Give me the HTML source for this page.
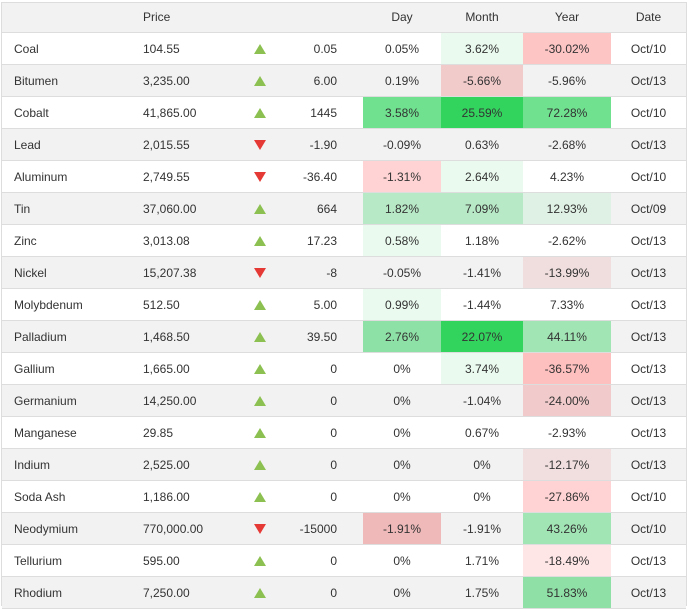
<!DOCTYPE html>
<html><head><style>
body{margin:0;width:689px;height:608px;background:#fff;font-family:"Liberation Sans",Arial,sans-serif;font-size:12px;color:#333;overflow:hidden;position:relative}
.t{position:absolute;left:1px;top:2px;width:686px;height:604px;border:1px solid #ddd;box-sizing:border-box}
.r{position:absolute;left:2px;width:684px;height:32px;border-bottom:1px solid #ddd;box-sizing:border-box}
.c{position:absolute;top:0;height:31px;line-height:32px}
.n{left:12px}.p{left:141px}
.tri{position:absolute;left:252px;width:0;height:0;border-left:6px solid transparent;border-right:6px solid transparent}
.up{top:11px;border-bottom:10px solid #8cc152}
.dn{top:11px;border-top:10px solid #e53935}
.ch{left:270px;width:65px;text-align:right}
.d{left:361px;width:78px;text-align:center}
.m{left:439px;width:82px;text-align:center}
.y{left:521px;width:88px;text-align:center}
.dt{left:609px;width:75px;text-align:center}
</style></head><body>
<div class="t"></div>
<div class="r" style="top:3px;height:30px;background:#f2f2f2"><div class="c p" style="line-height:29px">Price</div><div class="c d" style="line-height:29px">Day</div><div class="c m" style="line-height:29px">Month</div><div class="c y" style="line-height:29px">Year</div><div class="c dt" style="line-height:29px">Date</div></div>
<div id="rows"></div>
<script>
var D=[
["Coal","104.55",1,"0.05","0.05%","","3.62%","#eafaef","-30.02%","#fec5c5","Oct/10"],
["Bitumen","3,235.00",1,"6.00","0.19%","","-5.66%","#f1caca","-5.96%","","Oct/13"],
["Cobalt","41,865.00",1,"1445","3.58%","#6fe18f","25.59%","#33d45e","72.28%","#6fe18f","Oct/10"],
["Lead","2,015.55",0,"-1.90","-0.09%","","0.63%","","-2.68%","","Oct/13"],
["Aluminum","2,749.55",0,"-36.40","-1.31%","#ffd3d3","2.64%","#eafaef","4.23%","","Oct/10"],
["Tin","37,060.00",1,"664","1.82%","#b8e9c6","7.09%","#b8e9c6","12.93%","#dff0e4","Oct/09"],
["Zinc","3,013.08",1,"17.23","0.58%","#eafaef","1.18%","","-2.62%","","Oct/13"],
["Nickel","15,207.38",0,"-8","-0.05%","","-1.41%","","-13.99%","#f0dede","Oct/13"],
["Molybdenum","512.50",1,"5.00","0.99%","#eafaef","-1.44%","","7.33%","","Oct/13"],
["Palladium","1,468.50",1,"39.50","2.76%","#8ee1a6","22.07%","#33d45e","44.11%","#a2e5b5","Oct/13"],
["Gallium","1,665.00",1,"0","0%","","3.74%","#eafaef","-36.57%","#febfbf","Oct/13"],
["Germanium","14,250.00",1,"0","0%","","-1.04%","","-24.00%","#f1cbcb","Oct/13"],
["Manganese","29.85",1,"0","0%","","0.67%","","-2.93%","","Oct/13"],
["Indium","2,525.00",1,"0","0%","","0%","","-12.17%","#f1dfdf","Oct/13"],
["Soda Ash","1,186.00",1,"0","0%","","0%","","-27.86%","#ffd3d3","Oct/10"],
["Neodymium","770,000.00",0,"-15000","-1.91%","#efb9b9","-1.91%","","43.26%","#a2e5b5","Oct/10"],
["Tellurium","595.00",1,"0","0%","","1.71%","","-18.49%","#ffe6e6","Oct/13"],
["Rhodium","7,250.00",1,"0","0%","","1.75%","","51.83%","#8fe0a6","Oct/13"]];
var h="";
D.forEach(function(d,i){
 var top=33+i*32;
 var bg=i%2?"#f2f2f2":"#fff";
 h+='<div class="r" style="top:'+top+'px;background:'+bg+'">'+
 '<div class="c n">'+d[0]+'</div><div class="c p">'+d[1]+'</div>'+
 '<div class="tri '+(d[2]?'up':'dn')+'"></div>'+
 '<div class="c ch">'+d[3]+'</div>'+
 '<div class="c d" style="background:'+(d[5]||'transparent')+'">'+d[4]+'</div>'+
 '<div class="c m" style="background:'+(d[7]||'transparent')+'">'+d[6]+'</div>'+
 '<div class="c y" style="background:'+(d[9]||'transparent')+'">'+d[8]+'</div>'+
 '<div class="c dt">'+d[10]+'</div></div>';
});
document.getElementById("rows").innerHTML=h;
</script>
</body></html>
